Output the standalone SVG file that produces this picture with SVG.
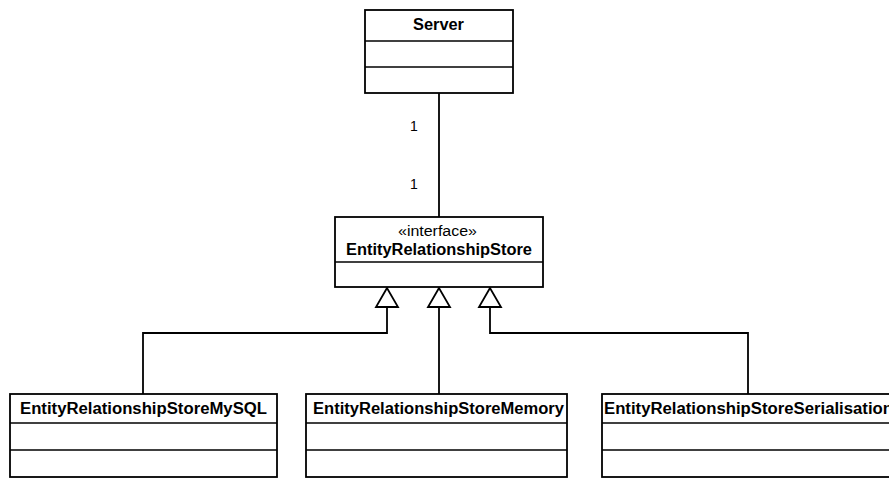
<svg xmlns="http://www.w3.org/2000/svg" width="889" height="480" viewBox="0 0 889 480">
<style>
.box{fill:#fff;stroke:#000;stroke-width:1.8}
.div{stroke:#000;stroke-width:1.6}
.title{font-family:"Liberation Sans",Arial,sans-serif;font-weight:bold;font-size:16px;fill:#000}
.stereo{font-family:"Liberation Sans",Arial,sans-serif;font-size:15.5px;fill:#000}
.mult{font-family:"Liberation Sans",Arial,sans-serif;font-size:14px;fill:#000}
.conn{fill:none;stroke:#000;stroke-width:1.8}
.tri{fill:#fff;stroke:#000;stroke-width:1.8;stroke-linejoin:miter}
</style>
<rect width="889" height="480" fill="#fff"/>
<g id="connectors">
<line class="conn" x1="439" y1="93" x2="439" y2="217"/>
<polyline class="conn" points="387,307 387,333 143,333 143,394"/>
<line class="conn" x1="439" y1="307" x2="439" y2="394"/>
<polyline class="conn" points="490,307 490,333 748,333 748,394"/>
<polygon class="tri" points="387,288 376,307 398,307"/>
<polygon class="tri" points="439,288 428,307 450,307"/>
<polygon class="tri" points="490,288 479,307 501,307"/>
<text class="mult" x="410" y="131">1</text>
<text class="mult" x="410" y="189">1</text>
</g>
<g id="server">
<rect class="box" x="365" y="10" width="148" height="83"/>
<line class="div" x1="365" y1="41" x2="513" y2="41"/>
<line class="div" x1="365" y1="67" x2="513" y2="67"/>
<text class="title" x="413" y="30" textLength="51" lengthAdjust="spacingAndGlyphs">Server</text>
</g>
<g id="entityRelationshipStore">
<rect class="box" x="335" y="217" width="208" height="70"/>
<line class="div" x1="335" y1="262" x2="543" y2="262"/>
<text class="stereo" x="398" y="236" textLength="79" lengthAdjust="spacingAndGlyphs">«interface»</text>
<text class="title" x="346" y="255" textLength="186" lengthAdjust="spacingAndGlyphs">EntityRelationshipStore</text>
</g>
<g id="storeMySQL">
<rect class="box" x="10" y="394" width="267" height="83"/>
<line class="div" x1="10" y1="423" x2="277" y2="423"/>
<line class="div" x1="10" y1="450" x2="277" y2="450"/>
<text class="title" x="20" y="414" textLength="247" lengthAdjust="spacingAndGlyphs">EntityRelationshipStoreMySQL</text>
</g>
<g id="storeMemory">
<rect class="box" x="306" y="394" width="261" height="83"/>
<line class="div" x1="306" y1="423" x2="567" y2="423"/>
<line class="div" x1="306" y1="450" x2="567" y2="450"/>
<text class="title" x="313" y="414" textLength="251" lengthAdjust="spacingAndGlyphs">EntityRelationshipStoreMemory</text>
</g>
<g id="storeSerialisation">
<rect class="box" x="602" y="394" width="300" height="83"/>
<line class="div" x1="602" y1="423" x2="902" y2="423"/>
<line class="div" x1="602" y1="450" x2="902" y2="450"/>
<text class="title" x="604" y="414" textLength="289" lengthAdjust="spacingAndGlyphs">EntityRelationshipStoreSerialisation</text>
</g>
</svg>
